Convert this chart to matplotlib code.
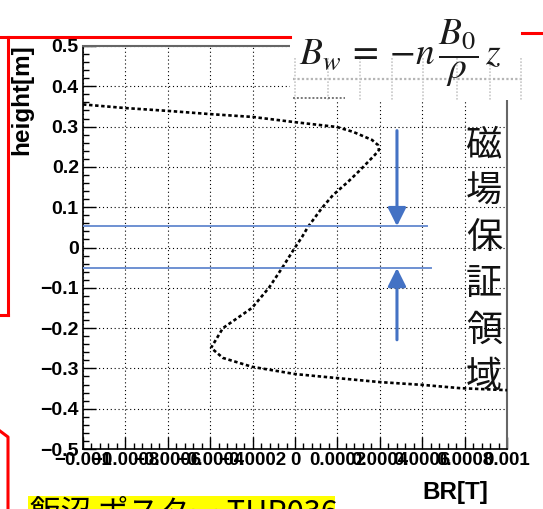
import matplotlib

matplotlib.use("Agg")
import matplotlib.pyplot as plt
import numpy as np
from matplotlib.lines import Line2D
from matplotlib.patches import Rectangle
from matplotlib.ticker import AutoMinorLocator

# BR field profile (path order follows the drawn curve)
br_values = [
    -0.001, -0.0008, -0.0006, -0.0004, -0.0002, 0.0, 0.000198, 0.000274,
    0.000363, 0.000392, 0.000396, 0.000377, 0.000307, 0.00025, 0.000179,
    0.000127, 0.000061, 0.000033, 0.0, -0.000061, -0.000123, -0.000203,
    -0.00034, -0.000396, -0.00034, -0.000203, 0.0, 0.000198, 0.000401,
    0.000604, 0.000778, 0.001,
]
height_values = [
    0.355, 0.346, 0.339, 0.331, 0.324, 0.311, 0.299, 0.287,
    0.267, 0.254, 0.242, 0.230, 0.192, 0.163, 0.130,
    0.098, 0.051, 0.026, 0.0, -0.051, -0.100, -0.150,
    -0.200, -0.249, -0.274, -0.296, -0.314, -0.324, -0.334,
    -0.341, -0.349, -0.354,
]

x_ticks = [-0.001, -0.0008, -0.0006, -0.0004, -0.0002, 0.0,
           0.0002, 0.0004, 0.0006, 0.0008, 0.001]
x_tick_labels = ["\u22120.001", "\u22120.0008", "\u22120.0006", "\u22120.0004",
                 "\u22120.0002", "0", "0.0002", "0.0004", "0.0006", "0.0008", "0.001"]
y_ticks = [0.5, 0.4, 0.3, 0.2, 0.1, 0.0, -0.1, -0.2, -0.3, -0.4, -0.5]
y_tick_labels = ["0.5", "0.4", "0.3", "0.2", "0.1", "0",
                 "\u22120.1", "\u22120.2", "\u22120.3", "\u22120.4", "\u22120.5"]

# guaranteed field region and arrows
band_top, band_bottom = 0.053, -0.051
band_ends = [0.000623, 0.00064]
arrow_x = 0.000481
arrow_starts = [0.29, -0.229]

region_chars = list("磁場保証領域")
poster_text = "飯沼 ポスター THP036"

W, H = 543, 509
BLUE = "#4472C4"
LINE_BLUE = "#6E91D2"
RED = "#FF0000"

plt.rcParams["mathtext.fontset"] = "stix"


def fx(x):
    return x / W


def fy(y):
    return 1 - y / H


fig = plt.figure(figsize=(W / 100, H / 100), dpi=100)
ax = fig.add_axes([fx(83), fy(449), (507 - 83) / W, (449 - 46) / H])

ax.plot(br_values, height_values, color="black", lw=1.9,
        linestyle=(0, (1.3, 1.0)), zorder=3)

ax.set_xlim(-0.001, 0.001)
ax.set_ylim(-0.5, 0.5)
ax.set_xticks(x_ticks)
ax.set_xticklabels(x_tick_labels)
ax.set_yticks(y_ticks)
ax.set_yticklabels(y_tick_labels)
ax.xaxis.set_minor_locator(AutoMinorLocator(5))
ax.yaxis.set_minor_locator(AutoMinorLocator(5))
ax.tick_params(which="both", direction="in", top=False, right=False, colors="black")
ax.tick_params(which="major", length=9, width=1.0)
ax.tick_params(which="minor", length=4.5, width=1.0)
ax.tick_params(axis="x", pad=2)
ax.tick_params(axis="y", pad=3)
for lab in ax.get_xticklabels():
    lab.set_fontfamily("Liberation Sans")
    lab.set_fontweight("bold")
    lab.set_fontsize(13.5)
for lab in ax.get_yticklabels():
    lab.set_fontfamily("Liberation Sans")
    lab.set_fontweight("bold")
    lab.set_fontsize(14)

ax.grid(True, which="major", color="black", lw=0.8, linestyle=(0, (1, 2.5)))
for side in ["top", "right"]:
    ax.spines[side].set_color("#666666")
    ax.spines[side].set_linewidth(1.5)
for side in ["left", "bottom"]:
    ax.spines[side].set_linewidth(1.2)

# guaranteed-region band lines and arrows
ax.plot([-0.001, band_ends[0]], [band_top, band_top], color=LINE_BLUE, lw=1.4, zorder=4)
ax.plot([-0.001, band_ends[1]], [band_bottom, band_bottom], color=LINE_BLUE, lw=1.4, zorder=4)
for start, end in [(arrow_starts[0], band_top), (arrow_starts[1], band_bottom)]:
    ax.annotate("", xy=(arrow_x, end), xytext=(arrow_x, start),
                arrowprops=dict(arrowstyle="-|>,head_length=0.5,head_width=0.25",
                                color=BLUE, lw=2.2, shrinkA=0, shrinkB=0,
                                mutation_scale=22), zorder=5)

# axis titles, ROOT style
fig.text(fx(22), fy(44), "height[m]", rotation=90, ha="center", va="top",
         fontfamily="Liberation Sans", fontweight="bold", fontsize=17.5)
fig.text(fx(488), fy(481), "BR[T]", ha="right", va="top",
         fontfamily="Liberation Sans", fontweight="bold", fontsize=17.5)

# vertical Japanese label
for i, ch in enumerate(region_chars):
    fig.text(fx(484), fy(145 + i * 46.4), ch, ha="center", va="center",
             fontfamily=["Noto Sans CJK JP", "DejaVu Sans"], fontsize=26,
             color="#111111")

# pasted equation image (white box with leftover grid)
fig.patches.append(Rectangle((fx(290), fy(100)), (522 - 290) / W, 100 / H,
                             transform=fig.transFigure, facecolor="white",
                             edgecolor="none", zorder=10))
fig.lines.append(Line2D([fx(293), fx(522)], [fy(79), fy(79)],
                        transform=fig.transFigure, color="#b5b5b5", lw=1.6,
                        linestyle=(0, (1, 1)), zorder=11))
for gx in [295, 328, 360, 392, 423, 457, 490, 521]:
    fig.lines.append(Line2D([fx(gx), fx(gx)], [fy(58), fy(100)],
                            transform=fig.transFigure, color="#c8c8c8", lw=1.2,
                            linestyle=(0, (1, 1)), zorder=11))
fig.lines.append(Line2D([fx(293), fx(345)], [fy(98), fy(98)],
                        transform=fig.transFigure, color="#777777", lw=1.4,
                        linestyle=(0, (1, 1)), zorder=11))
fig.text(fx(401), fy(53), r"$B_w\:=\:-n\,\dfrac{B_0}{\rho}\,z$", ha="center",
         va="center", fontsize=27, color="#1a1a1a", zorder=12)

# red outline strokes
red_paths = [
    ([0, 290], [37, 37]),
    ([522, 543], [33, 33]),
    ([8, 8], [37, 315]),
    ([0, 8], [315, 315]),
    ([0, 8, 8], [431, 437, 509]),
]
for xs, ys in red_paths:
    fig.lines.append(Line2D([fx(v) for v in xs], [fy(v) for v in ys],
                            transform=fig.transFigure, color=RED, lw=2.2,
                            zorder=13))

# yellow poster tag, cut off by the bottom edge
fig.patches.append(Rectangle((fx(28), 0), (335 - 28) / W, 13 / H,
                             transform=fig.transFigure, facecolor="#FFFF00",
                             edgecolor="none", zorder=13))
fig.text(fx(30), fy(498), poster_text, ha="left", va="top",
         fontfamily=["Noto Sans CJK JP", "DejaVu Sans"], fontsize=22,
         color="black", zorder=14)

fig.savefig("out.png", dpi=100)
